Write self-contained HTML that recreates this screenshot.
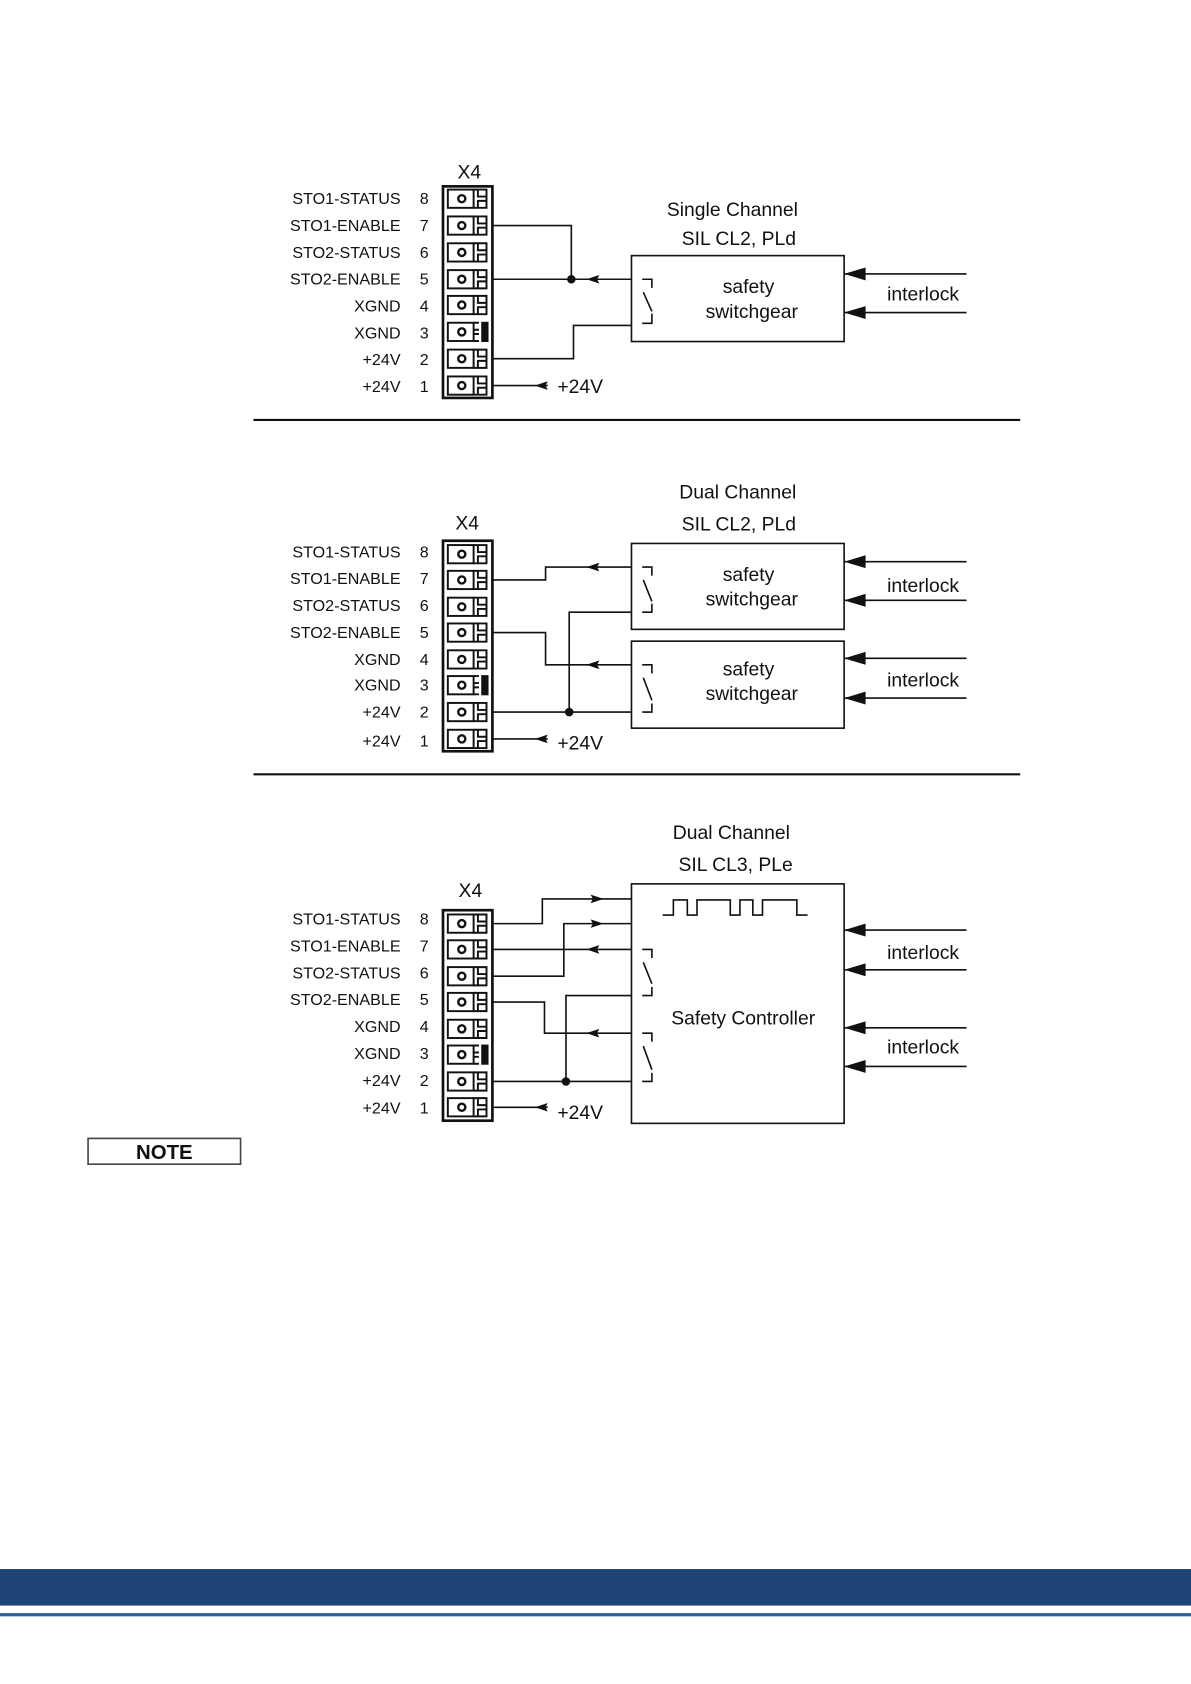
<!DOCTYPE html>
<html><head><meta charset="utf-8"><style>
html,body{margin:0;padding:0;background:#fff;}
svg{display:block;}
text{font-family:"Liberation Sans",Arial,sans-serif;fill:#111;}
</style></head><body>
<svg width="1191" height="1684" viewBox="0 0 1109 1568" xmlns="http://www.w3.org/2000/svg">
<defs>
<g id="pin" fill="none" stroke="#111" stroke-width="1.8">
<rect x="417" y="-8.5" width="24" height="17"/>
<circle cx="430" cy="0" r="3.3" stroke-width="2.2"/>
<path d="M441 -8.5 H453 V8.5 H441 M445 -8.5 V-2 H453 M445 8.5 V2 H453"/>
</g>
<g id="pinb" fill="none" stroke="#111" stroke-width="1.8">
<rect x="417" y="-8.5" width="24" height="17"/>
<circle cx="430" cy="0" r="3.3" stroke-width="2.2"/>
<path d="M441 -8.5 H446 M441 8.5 H446 M441 -2 H446 M441 2 H446"/>
<rect x="449" y="-8.5" width="5" height="17" fill="#111"/>
</g>
<path id="al" d="M0 0 L12 -4 L10 0 L12 4 Z" fill="#111"/>
<path id="ar" d="M0 0 L-12 -4 L-10 0 L-12 4 Z" fill="#111"/>
<path id="ai" d="M0 0 L20 -6 L20 6 Z" fill="#111"/>
</defs>

<g font-size="15" text-anchor="end">
<!-- Diagram 1 labels -->
<text x="373" y="190">STO1-STATUS</text><text x="373" y="215">STO1-ENABLE</text>
<text x="373" y="240">STO2-STATUS</text><text x="373" y="265">STO2-ENABLE</text>
<text x="373" y="290">XGND</text><text x="373" y="315">XGND</text>
<text x="373" y="340">+24V</text><text x="373" y="365">+24V</text>
<!-- Diagram 2 -->
<text x="373" y="519">STO1-STATUS</text><text x="373" y="544">STO1-ENABLE</text>
<text x="373" y="569">STO2-STATUS</text><text x="373" y="594">STO2-ENABLE</text>
<text x="373" y="619">XGND</text><text x="373" y="643">XGND</text>
<text x="373" y="668">+24V</text><text x="373" y="695">+24V</text>
<!-- Diagram 3 -->
<text x="373" y="861">STO1-STATUS</text><text x="373" y="886">STO1-ENABLE</text>
<text x="373" y="911">STO2-STATUS</text><text x="373" y="936">STO2-ENABLE</text>
<text x="373" y="961">XGND</text><text x="373" y="986">XGND</text>
<text x="373" y="1011">+24V</text><text x="373" y="1037">+24V</text>
</g>
<g font-size="15" text-anchor="middle">
<text x="395" y="190">8</text><text x="395" y="215">7</text><text x="395" y="240">6</text><text x="395" y="265">5</text><text x="395" y="290">4</text><text x="395" y="315">3</text><text x="395" y="340">2</text><text x="395" y="365">1</text>
<text x="395" y="519">8</text><text x="395" y="544">7</text><text x="395" y="569">6</text><text x="395" y="594">5</text><text x="395" y="619">4</text><text x="395" y="643">3</text><text x="395" y="668">2</text><text x="395" y="695">1</text>
<text x="395" y="861">8</text><text x="395" y="886">7</text><text x="395" y="911">6</text><text x="395" y="936">5</text><text x="395" y="961">4</text><text x="395" y="986">3</text><text x="395" y="1011">2</text><text x="395" y="1037">1</text>
</g>
<g font-size="18" text-anchor="middle">
<text x="437" y="166">X4</text><text x="435" y="493">X4</text><text x="438" y="835">X4</text>
<text x="682" y="201">Single Channel</text><text x="688" y="228">SIL CL2, PLd</text>
<text x="687" y="464">Dual Channel</text><text x="688" y="494">SIL CL2, PLd</text>
<text x="681" y="781">Dual Channel</text><text x="685" y="811">SIL CL3, PLe</text>
<text x="697" y="273">safety</text><text x="700" y="296">switchgear</text>
<text x="697" y="541">safety</text><text x="700" y="564">switchgear</text>
<text x="697" y="629">safety</text><text x="700" y="652">switchgear</text>
<text x="692" y="954">Safety Controller</text>
</g>
<g font-size="18">
<text x="826" y="280">interlock</text><text x="826" y="551">interlock</text><text x="826" y="639">interlock</text>
<text x="826" y="893">interlock</text><text x="826" y="981">interlock</text>
<text x="519" y="366">+24V</text><text x="519" y="698">+24V</text><text x="519" y="1042">+24V</text>
</g>

<g fill="none" stroke="#111" stroke-width="1.5">
<!-- connectors -->
<rect x="412.5" y="173.5" width="46" height="197" stroke-width="2.5"/>
<rect x="412.5" y="503.5" width="46" height="196" stroke-width="2.5"/>
<rect x="412.5" y="847.5" width="46" height="196" stroke-width="2.5"/>
<!-- separators -->
<line x1="236" y1="391" x2="950" y2="391" stroke-width="2"/>
<line x1="236" y1="721" x2="950" y2="721" stroke-width="2"/>
<!-- Diagram 1 -->
<rect x="588" y="238" width="198" height="80"/>
<path d="M459 210 H532 V260 M459 260 H588 M459 334 H534 V303 H588 M459 359 H510"/>
<path d="M598 260 H607 V268 M599 272 L607 290 M598 301 H607 V292"/>
<path d="M786 255 H900 M786 291 H900"/>
<!-- Diagram 2 -->
<rect x="588" y="506" width="198" height="80"/>
<rect x="588" y="597" width="198" height="81"/>
<path d="M459 540 H508 V528 H588 M459 589 H508 V619 H588 M530 663 V570 H588 M459 663 H588 M459 688 H510"/>
<path d="M598 528 H607 V536 M599 540 L607 560 M598 570 H607 V562"/>
<path d="M598 619 H607 V627 M599 631 L607 652 M598 663 H607 V655"/>
<path d="M786 523 H900 M786 559 H900 M786 613 H900 M786 650 H900"/>
<!-- Diagram 3 -->
<rect x="588" y="823" width="198" height="223"/>
<path d="M459 860 H505 V837 H588 M459 884 H588 M459 909 H525 V860 H588 M459 933 H507 V962 H588 M527 1007 V927 H588 M459 1007 H588 M459 1031 H510"/>
<path d="M598 884 H607 V892 M599 896 L607 916 M598 927 H607 V919"/>
<path d="M598 962 H607 V970 M599 974 L607 996 M598 1007 H607 V999"/>
<path d="M617 852 H627 V838 H640 V852 H649 V838 H680 V852 H689 V838 H701 V852 H710 V838 H742 V852 H752"/>
<path d="M786 866 H900 M786 903 H900 M786 957 H900 M786 993 H900"/>
<!-- NOTE -->
<rect x="82" y="1060" width="142" height="24" stroke="#444"/>
</g>
<text x="153" y="1079" font-size="19" font-weight="bold" text-anchor="middle">NOTE</text>

<!-- pins -->
<use href="#pin" y="185"/><use href="#pin" y="210"/><use href="#pin" y="235"/><use href="#pin" y="260"/>
<use href="#pin" y="284"/><use href="#pinb" y="309"/><use href="#pin" y="334"/><use href="#pin" y="359"/>
<use href="#pin" y="516"/><use href="#pin" y="540"/><use href="#pin" y="565"/><use href="#pin" y="589"/>
<use href="#pin" y="614"/><use href="#pinb" y="638"/><use href="#pin" y="663"/><use href="#pin" y="688"/>
<use href="#pin" y="860"/><use href="#pin" y="884"/><use href="#pin" y="909"/><use href="#pin" y="933"/>
<use href="#pin" y="958"/><use href="#pinb" y="982"/><use href="#pin" y="1007"/><use href="#pin" y="1031"/>

<!-- dots -->
<circle cx="532" cy="260" r="4" fill="#111"/>
<circle cx="530" cy="663" r="4" fill="#111"/>
<circle cx="527" cy="1007" r="4" fill="#111"/>
<!-- small arrows -->
<use href="#al" x="546" y="260"/><use href="#al" x="498" y="359"/>
<use href="#al" x="546" y="528"/><use href="#al" x="546" y="619"/><use href="#al" x="498" y="688"/>
<use href="#ar" x="562" y="837"/><use href="#ar" x="562" y="860"/>
<use href="#al" x="546" y="884"/><use href="#al" x="546" y="962"/><use href="#al" x="498" y="1031"/>
<!-- interlock arrows -->
<use href="#ai" x="786" y="255"/><use href="#ai" x="786" y="291"/>
<use href="#ai" x="786" y="523"/><use href="#ai" x="786" y="559"/>
<use href="#ai" x="786" y="613"/><use href="#ai" x="786" y="650"/>
<use href="#ai" x="786" y="866"/><use href="#ai" x="786" y="903"/>
<use href="#ai" x="786" y="957"/><use href="#ai" x="786" y="993"/>

<!-- footer -->
<rect x="0" y="1461" width="1109" height="34" fill="#1f4478"/>
<rect x="0" y="1502" width="1109" height="3" fill="#2a62a0"/>
</svg>
</body></html>
